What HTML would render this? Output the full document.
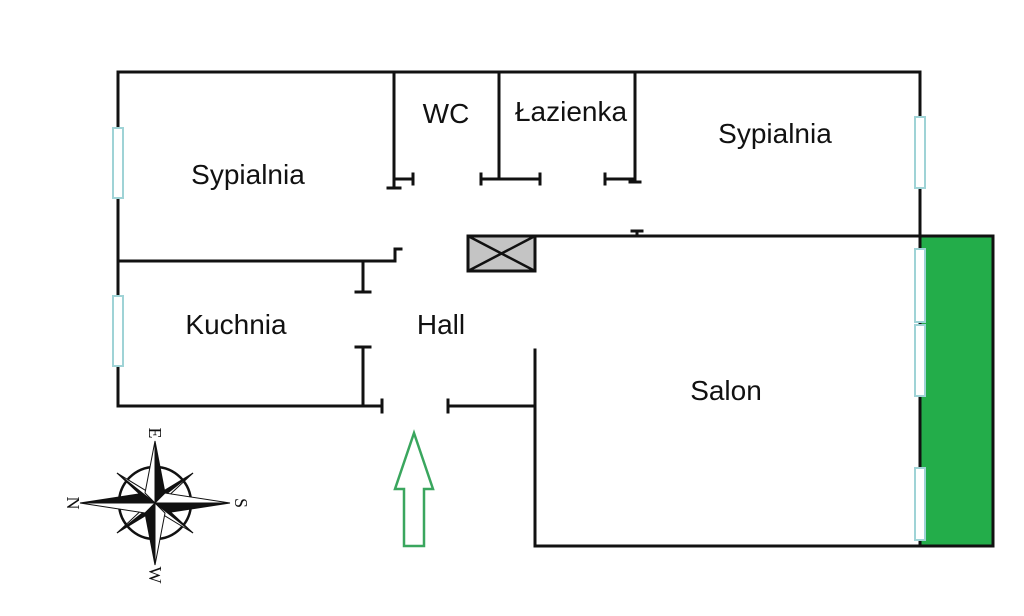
<!DOCTYPE html>
<html><head><meta charset="utf-8"><style>
body{margin:0;background:#fff;}
svg{display:block;}
text{font-family:"Liberation Sans",sans-serif;fill:#111;}
</style></head><body>
<svg width="1024" height="616" viewBox="0 0 1024 616" xmlns="http://www.w3.org/2000/svg">
<rect x="920" y="236" width="73" height="310" fill="#23ad4a" stroke="#111" stroke-width="3"/>
<g stroke="#111" stroke-width="3" fill="none" stroke-linecap="square">
<path d="M118 72 H920 V546 H535 V350"/>
<path d="M118 72 V406 H382"/>
<path d="M382 400 V412"/>
<path d="M118 261 H395 V249 H401"/>
<path d="M363 263 V292 M356 292 H370"/>
<path d="M363 347 V406 M356 347 H370"/>
<path d="M394 72 V188 M388 188 H400 M394 179 H413 M413 174 V184"/>
<path d="M499 72 V179 M481 179 H540 M481 174 V184 M540 174 V184"/>
<path d="M635 72 V182 M605 179 H635 M605 174 V184 M630 182 H640"/>
<path d="M535 236 H920 M637 231 V236 M632 231 H642"/>
<path d="M448 406 H535 M448 400 V412"/>
</g>
<rect x="468" y="236" width="67" height="35" fill="#c4c4c4" stroke="#111" stroke-width="3"/>
<path d="M468 236 L535 271 M535 236 L468 271" stroke="#111" stroke-width="2.5"/>
<g fill="#fff" stroke="#9fd3d6" stroke-width="2">
<rect x="113" y="128" width="10" height="70"/>
<rect x="113" y="296" width="10" height="70"/>
<rect x="915" y="117" width="10" height="71"/>
<rect x="915" y="249" width="10" height="73"/>
<rect x="915" y="325" width="10" height="71"/>
<rect x="915" y="468" width="10" height="72"/>
</g>
<text x="248" y="184" font-size="28" text-anchor="middle">Sypialnia</text>
<text x="446" y="123" font-size="28" text-anchor="middle">WC</text>
<text x="571" y="121" font-size="28" text-anchor="middle">Łazienka</text>
<text x="775" y="143" font-size="28" text-anchor="middle">Sypialnia</text>
<text x="236" y="334" font-size="28" text-anchor="middle">Kuchnia</text>
<text x="441" y="334" font-size="28" text-anchor="middle">Hall</text>
<text x="726" y="400" font-size="28" text-anchor="middle">Salon</text>
<path d="M414 433 L433 489 L424 489 L424 546 L404 546 L404 489 L395 489 Z" fill="none" stroke="#3aa65e" stroke-width="2.5"/>
<g transform="translate(155,503)">
<circle r="36" fill="none" stroke="#111" stroke-width="2.5"/>
<g stroke="#111" stroke-width="1">
<g fill="#111">
<path d="M0 0 L-38 -30 L-8 -2 Z M0 0 L38 -30 L2 -8 Z M0 0 L38 30 L8 2 Z M0 0 L-38 30 L-2 8 Z"/>
<path d="M0 -62 L10 -10 L0 0 Z M0 62 L-10 10 L0 0 Z M-75 0 L-10 -10 L0 0 Z M75 0 L10 10 L0 0 Z"/>
</g>
<g fill="#fff">
<path d="M0 0 L-38 -30 L-2 -8 Z M0 0 L38 -30 L8 -2 Z M0 0 L38 30 L2 8 Z M0 0 L-38 30 L-8 2 Z"/>
<path d="M0 -62 L-10 -10 L0 0 Z M0 62 L10 10 L0 0 Z M-75 0 L-10 10 L0 0 Z M75 0 L10 -10 L0 0 Z"/>
</g>
</g>
<text transform="translate(-6,-70) rotate(90)" font-size="18" text-anchor="middle" style="font-family:'Liberation Serif',serif">E</text>
<text transform="translate(-6,72) rotate(90)" font-size="18" text-anchor="middle" style="font-family:'Liberation Serif',serif">W</text>
<text transform="translate(-88,0) rotate(90)" font-size="18" text-anchor="middle" style="font-family:'Liberation Serif',serif">N</text>
<text transform="translate(80,0) rotate(90)" font-size="18" text-anchor="middle" style="font-family:'Liberation Serif',serif">S</text>
</g>
</svg>
</body></html>
